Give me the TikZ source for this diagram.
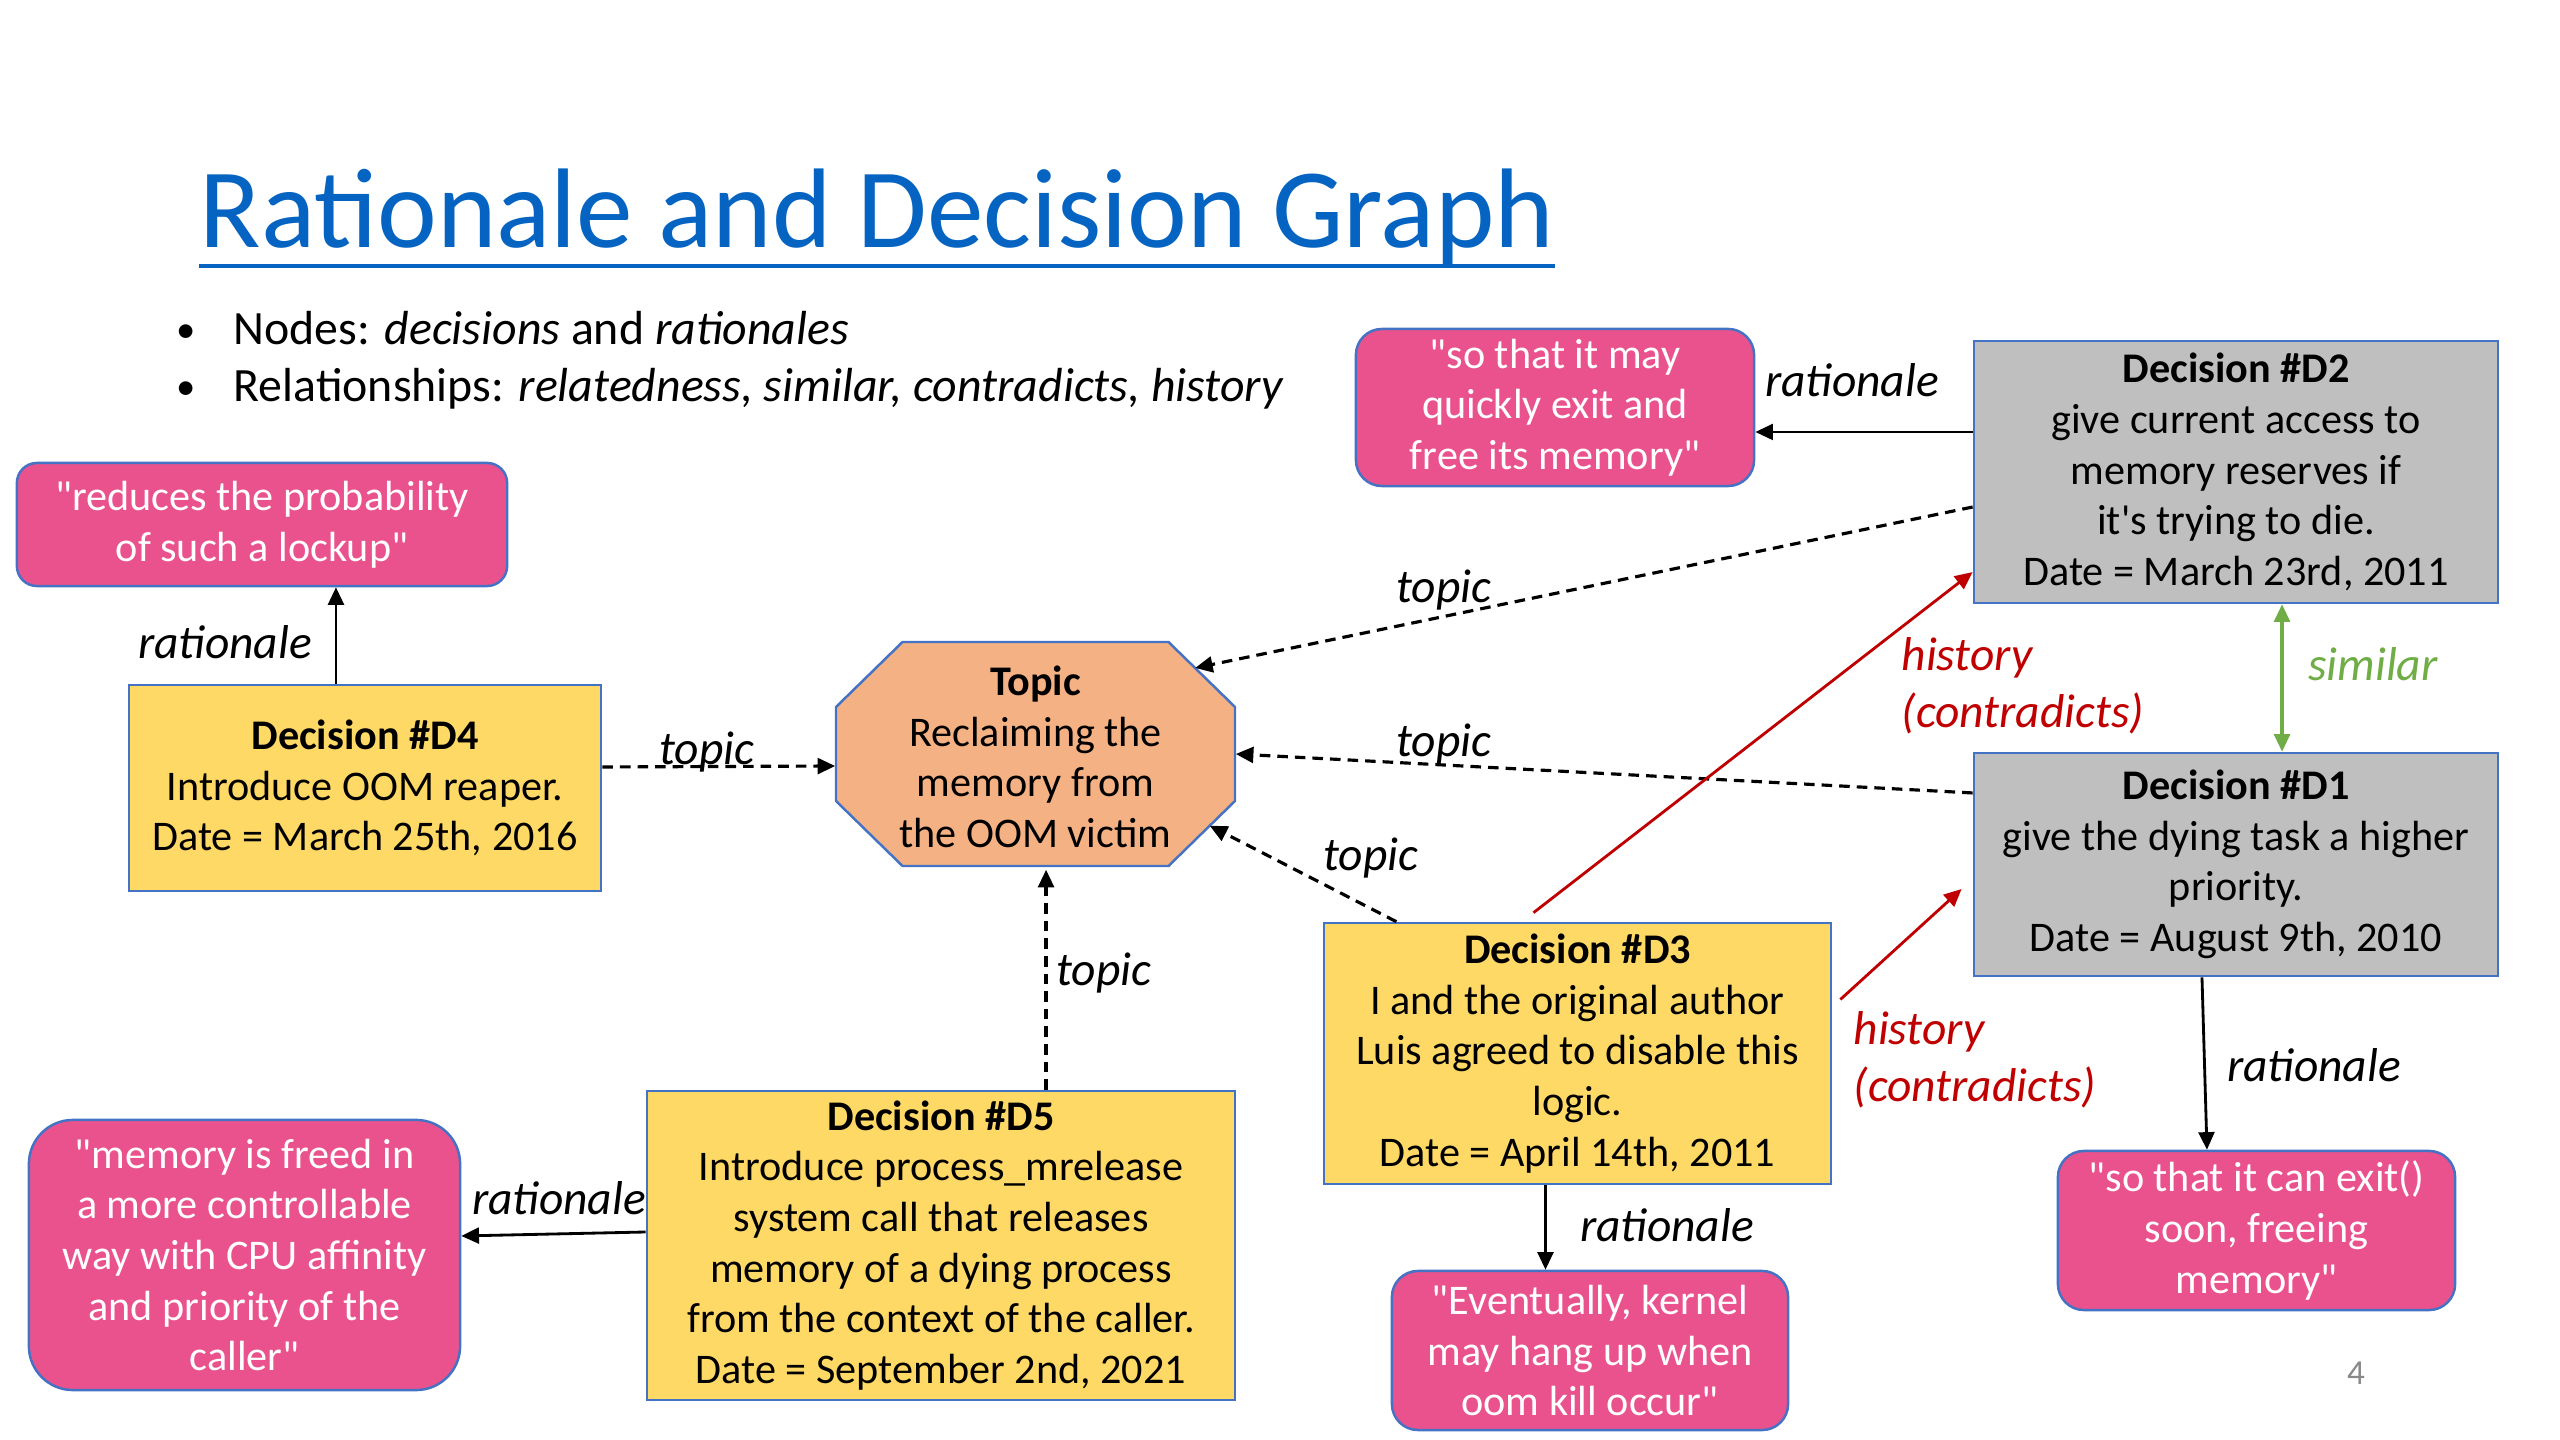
\documentclass[tikz,border=0pt]{standalone}
\usepackage{fontspec}
\setmainfont{Carlito}[Ligatures=TeXOff]
\usetikzlibrary{arrows.meta,calc}
\definecolor{pinkc}{RGB}{234,82,142}
\definecolor{yellowc}{RGB}{255,217,102}
\definecolor{grayc}{RGB}{191,191,191}
\definecolor{orangec}{RGB}{244,177,131}
\definecolor{borderc}{RGB}{68,114,196}
\definecolor{titleblue}{RGB}{5,99,193}
\definecolor{redc}{RGB}{192,0,0}
\definecolor{greenc}{RGB}{112,173,71}
\definecolor{pagegray}{RGB}{137,137,137}
\newcommand{\boxfont}{\fontsize{12}{14.4}\selectfont}
\newcommand{\lblfont}{\fontsize{13.5}{16.2}\selectfont\itshape}
\begin{document}
\begin{tikzpicture}[x=0.01cm,y=-0.01cm,
  base/.style={draw=borderc,line width=0.7pt,align=center,font=\boxfont,inner sep=0pt},
  decbox/.style={base,fill=yellowc},
  graybox/.style={base,fill=grayc},
  ratbox/.style={base,fill=pinkc,text=white},
  lbl/.style={font=\lblfont,inner sep=0pt},
  arr/.style={line width=0.8pt,-{Triangle[length=5pt,width=4.5pt]}},
  darr/.style={line width=0.9pt,dash pattern=on 3pt off 2pt,-{Triangle[length=5pt,width=4.5pt]}},
  rarr/.style={line width=0.8pt,draw=redc,-{Triangle[length=5pt,width=4.5pt]}},
  garr/.style={line width=0.9pt,draw=greenc,{Triangle[length=5pt,width=4.5pt]}-{Triangle[length=5pt,width=4.5pt]}}
]
\useasboundingbox (0,0) rectangle (2560,1440);

% Title
\node[anchor=base west,inner sep=0pt,text=titleblue,font=\fontsize{32.2}{39}\selectfont] (title) at (199,248) {Rationale and Decision Graph};
\draw[titleblue,line width=1.2pt] ([yshift=-0.18cm]title.base west) -- ([yshift=-0.18cm]title.base east);

% Bullets
\node[anchor=base,inner sep=0pt,font=\fontsize{11}{13}\selectfont] (b1) at (186,343) {•};
\node[anchor=base west,inner sep=0pt,font=\fontsize{13.6}{16}\selectfont] (t1) at (233,345) {Nodes: \textit{decisions} and \textit{rationales}};
\node[anchor=base,inner sep=0pt,font=\fontsize{11}{13}\selectfont] (b2) at (186,400) {•};
\node[anchor=base west,inner sep=0pt,font=\fontsize{13.6}{16}\selectfont] (t2) at (233,402) {Relationships: \textit{relatedness, similar, contradicts, history}};

% Topic octagon
\coordinate (tc) at (1035.5,754);
\coordinate (o1) at ($(tc)+(-133,-112)$);
\coordinate (o2) at ($(tc)+(133,-112)$);
\coordinate (o3) at ($(tc)+(199.5,-47)$);
\coordinate (o4) at ($(tc)+(199.5,47)$);
\coordinate (o5) at ($(tc)+(133,112)$);
\coordinate (o6) at ($(tc)+(-133,112)$);
\coordinate (o7) at ($(tc)+(-199.5,47)$);
\coordinate (o8) at ($(tc)+(-199.5,-47)$);
\filldraw[fill=orangec,draw=borderc,line width=0.7pt] (o1) -- (o2) -- (o3) -- (o4) -- (o5) -- (o6) -- (o7) -- (o8) -- cycle;
\node[align=center,font=\boxfont,inner sep=0pt,minimum width=3.99cm,minimum height=2.24cm] (topic) at ([yshift=-0.03cm]tc) {\textbf{Topic}\\Reclaiming the\\memory from\\the OOM victim};
\coordinate (tNE) at ($(o2)!0.4!(o3)$);
\coordinate (tSE) at ($(o4)!0.38!(o5)$);

% Nodes
\node[ratbox,rounded corners=0.2cm,minimum width=4.90cm,minimum height=1.23cm] (R4) at (262,524.5) {"reduces the probability\\of such a lockup"};
\node[decbox,minimum width=4.72cm,minimum height=2.06cm] (D4) at (365,788) {\textbf{Decision \#D4}\\Introduce OOM reaper.\\Date = March 25th, 2016};
\node[ratbox,rounded corners=0.26cm,minimum width=3.98cm,minimum height=1.57cm] (R2) at (1555,407.5) {"so that it may\\quickly exit and\\free its memory"};
\node[graybox,minimum width=5.24cm,minimum height=2.62cm] (D2) at (2236,472) {\textbf{Decision \#D2}\\give current access to\\memory reserves if\\it's trying to die.\\Date = March 23rd, 2011};
\node[graybox,minimum width=5.24cm,minimum height=2.23cm] (D1) at (2236,864.5) {\textbf{Decision \#D1}\\give the dying task a higher\\priority.\\Date = August 9th, 2010};
\node[decbox,minimum width=5.07cm,minimum height=2.61cm] (D3) at (1577.5,1053.5) {\textbf{Decision \#D3}\\I and the original author\\Luis agreed to disable this\\logic.\\Date = April 14th, 2011};
\node[ratbox,rounded corners=0.26cm,minimum width=3.96cm,minimum height=1.59cm] (R3) at (1590,1350.5) {"Eventually, kernel\\may hang up when\\oom kill occur"};
\node[ratbox,rounded corners=0.26cm,minimum width=3.97cm,minimum height=1.59cm] (R1) at (2256.5,1230.5) {"so that it can exit()\\soon, freeing\\memory"};
\node[decbox,minimum width=5.88cm,minimum height=3.09cm] (D5) at (941,1245.5) {\textbf{Decision \#D5}\\Introduce process\_mrelease\\system call that releases\\memory of a dying process\\from the context of the caller.\\Date = September 2nd, 2021};
\node[ratbox,rounded corners=0.44cm,minimum width=4.31cm,minimum height=2.70cm] (R5) at (244.5,1255) {"memory is freed in\\a more controllable\\way with CPU affinity\\and priority of the\\caller"};

% Connectors
\draw[arr] ([xshift=-0.29cm]D4.north) -- ([xshift=-0.29cm]D4.north |- R4.south);
\node[lbl] (l1) at (225,642) {rationale};

\draw[darr] ([yshift=0.21cm]D4.east) -- ([yshift=-0.09cm]topic.west);
\node[lbl] (l2) at (707,752) {topic};

\draw[arr] ([yshift=0.4cm]D2.west) -- ([yshift=0.4cm]D2.west -| R2.east);
\node[lbl] (l3) at (1852,380) {rationale};

\draw[darr] ([yshift=-0.35cm]D2.west) -- (tNE);
\node[lbl] (l4) at (1444,590) {topic};

\draw[darr] ([yshift=0.715cm]D1.west) -- ([yshift=0.03cm]topic.east);
\node[lbl] (l5) at (1444,744) {topic};

\draw[darr] ([xshift=-1.81cm]D3.north) -- (tSE);
\node[lbl] (l6) at (1371,858) {topic};

\draw[garr] ([xshift=0.46cm]D2.south) -- ([xshift=0.46cm]D2.south |- D1.north);
\node[lbl,text=greenc] (l7) at (2373,664) {similar};

\draw[rarr] ([xshift=-0.44cm,yshift=0.09cm]D3.north) -- ([yshift=-1.0cm]D2.west);
\node[lbl,text=redc,align=left,anchor=west] (l8) at (1901,686) {history\\(contradicts)};

\draw[rarr] ([xshift=0.08cm,yshift=0.54cm]D3.east) -- ([xshift=-0.11cm,yshift=-0.245cm]D1.west);
\node[lbl,text=redc,align=left,anchor=west] (l9) at (1853,1060) {history\\(contradicts)};

\draw[arr] ([xshift=-0.34cm]D1.south) -- ([xshift=-0.495cm]R1.north);
\node[lbl] (l10) at (2314,1065) {rationale};

\draw[arr] ([xshift=-0.32cm]D3.south) -- ([xshift=-0.32cm]D3.south |- R3.north);
\node[lbl] (l11) at (1667,1225) {rationale};

\draw[darr] ([xshift=1.05cm]D5.north) -- ([xshift=1.05cm]D5.north |- topic.south);
\node[lbl] (l12) at (1104,973) {topic};

\draw[arr] ([yshift=0.135cm]D5.west) -- ([yshift=0.19cm]R5.east);
\node[lbl] (l13) at (559,1198) {rationale};

% Page number
\node[text=pagegray,font=\fontsize{10}{12}\selectfont,inner sep=0pt] (pg) at (2356,1373) {4};
\end{tikzpicture}
\end{document}
